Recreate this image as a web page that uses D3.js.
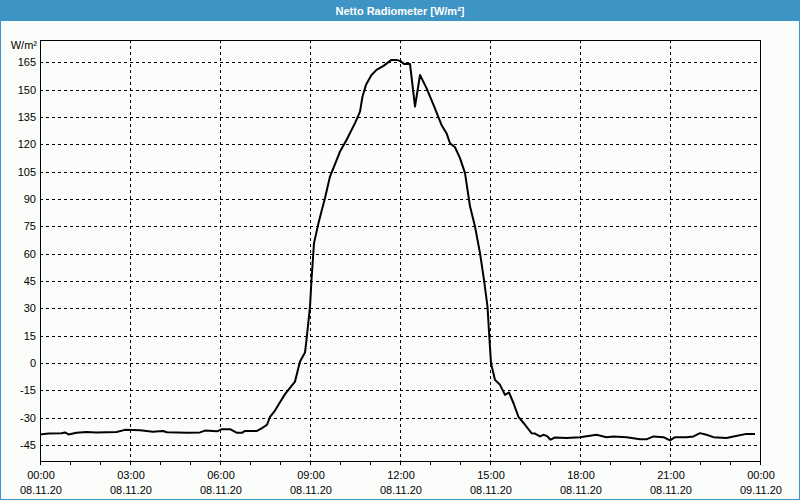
<!DOCTYPE html>
<html><head><meta charset="utf-8">
<script src="https://cdn.jsdelivr.net/npm/d3@7"></script>
<style>
html,body{margin:0;padding:0;background:#fbfdfb;}
svg{display:block;font-family:"Liberation Sans",Arial,sans-serif;}
</style></head>
<body>
<svg id="chart" width="800" height="500"></svg>
<script>
const title = "Netto Radiometer [W/m²]";
const unitLabel = "W/m²";
// minutes since 08.11.20 00:00
const minutes = [0,17,43,50,57,73,93,113,153,170,200,226,246,254,294,320,330,354,364,380,394,404,410,434,444,454,460,470,480,490,510,520,530,533,540,543,548,557,562,570,580,600,613,630,640,645,652,663,673,687,703,713,721,728,740,750,760,773,787,803,813,820,830,840,850,860,870,880,888,895,899,902,910,920,930,938,947,957,970,983,990,1000,1007,1014,1021,1030,1053,1080,1113,1133,1147,1173,1200,1214,1227,1247,1260,1270,1293,1307,1320,1333,1347,1373,1387,1413,1430];
const values = [-39.1,-38.6,-38.4,-38.0,-39.1,-38.2,-37.8,-38.0,-37.8,-36.6,-36.8,-37.6,-37.2,-37.9,-38.2,-38.0,-37.0,-37.4,-36.2,-36.2,-38.2,-38.2,-37.2,-37.2,-35.6,-33.8,-29.5,-26,-21.5,-17,-10.1,0.9,5.8,12.8,31,45.7,65.8,76.8,82.2,90.5,102.3,116,122.4,131.6,137.9,146.2,152.6,158,160.8,163,166.3,166.3,165.6,164.1,164.1,140.7,158,150.8,141.6,130.6,126.1,120.6,118.4,112.4,104.2,86,74.9,60.3,45.7,31,12.8,0,-9.2,-11.9,-17.4,-16.1,-22,-29.5,-33.8,-38.4,-38.6,-40.2,-39.3,-40,-42,-40.8,-41.1,-40.6,-39.3,-40.6,-40.2,-40.6,-41.7,-41.7,-40.2,-40.6,-42.4,-40.6,-40.6,-40.2,-38.4,-39.3,-40.6,-41.1,-40.2,-38.8,-38.8];
const yTicks = [-45,-30,-15,0,15,30,45,60,75,90,105,120,135,150,165];
const xTickHours = [0,3,6,9,12,15,18,21,24];
const timeLabels = ["00:00","03:00","06:00","09:00","12:00","15:00","18:00","21:00","00:00"];
const dateLabels = ["08.11.20","08.11.20","08.11.20","08.11.20","08.11.20","08.11.20","08.11.20","08.11.20","09.11.20"];

const svg = d3.select("#chart");
const W = 800, H = 500;
const L = 40, R = 760, T = 40, B = 460.5;
const x = d3.scaleLinear().domain([0, 24*60]).range([L, R]);
const y = d3.scaleLinear().domain([-53.4, 177.2]).range([B, T]);

svg.append("rect").attr("width", W).attr("height", H).attr("fill", "#fbfdfb");
// title bar
svg.append("rect").attr("x", 0).attr("y", 0).attr("width", W).attr("height", 21).attr("fill", "#3d94c5");
svg.append("text").attr("x", 400).attr("y", 14.5).attr("text-anchor", "middle")
  .attr("fill", "#ffffff").attr("font-weight", "bold").attr("font-size", "11px").text(title);
// outer border
svg.append("rect").attr("x", 0.5).attr("y", 0.5).attr("width", W-1).attr("height", H-1)
  .attr("fill", "none").attr("stroke", "#3d94c5");

const g = svg.append("g");
// horizontal grid
g.selectAll("line.hg").data(yTicks).enter().append("line")
  .attr("x1", L).attr("x2", R)
  .attr("y1", d => Math.round(y(d)) + 0.5).attr("y2", d => Math.round(y(d)) + 0.5)
  .attr("stroke", "#000").attr("stroke-dasharray", "3,3").attr("stroke-width", 1);
// vertical grid
g.selectAll("line.vg").data(xTickHours.slice(1, -1)).enter().append("line")
  .attr("x1", d => Math.round(x(d*60)) + 0.5).attr("x2", d => Math.round(x(d*60)) + 0.5)
  .attr("y1", T).attr("y2", B)
  .attr("stroke", "#000").attr("stroke-dasharray", "3,3").attr("stroke-width", 1);
// plot frame
svg.append("rect").attr("x", L + 0.5).attr("y", T + 0.5).attr("width", R - L).attr("height", Math.round(B) - T)
  .attr("fill", "none").attr("stroke", "#000").attr("stroke-width", 1);

// hourly ticks
const hours = d3.range(0, 25);
svg.selectAll("line.ht").data(hours).enter().append("line")
  .attr("x1", d => Math.round(x(d*60)) + 0.5).attr("x2", d => Math.round(x(d*60)) + 0.5)
  .attr("y1", Math.round(B)).attr("y2", Math.round(B) + 4)
  .attr("stroke", "#000");

// y labels
svg.selectAll("text.yl").data(yTicks).enter().append("text")
  .attr("x", 36).attr("y", d => y(d) + 4).attr("text-anchor", "end")
  .attr("font-size", "11px").attr("fill", "#000").text(d => d);
svg.append("text").attr("x", 37).attr("y", 49).attr("text-anchor", "end")
  .attr("font-size", "11px").attr("fill", "#000").text(unitLabel);

// x labels
svg.selectAll("text.xt").data(xTickHours).enter().append("text")
  .attr("x", d => x(d*60) + 1).attr("y", 479).attr("text-anchor", "middle")
  .attr("font-size", "11px").attr("fill", "#000").text((d, i) => timeLabels[i]);
svg.selectAll("text.xd").data(xTickHours).enter().append("text")
  .attr("x", d => x(d*60) + 1).attr("y", 494).attr("text-anchor", "middle")
  .attr("font-size", "11px").attr("fill", "#000").text((d, i) => dateLabels[i]);

// line
const data = minutes.map((m, i) => [m, values[i]]);
svg.append("path").datum(data)
  .attr("d", d3.line().x(d => x(d[0])).y(d => y(d[1])))
  .attr("fill", "none").attr("stroke", "#000").attr("stroke-width", 2).attr("stroke-linejoin", "round");
</script>
</body></html>
